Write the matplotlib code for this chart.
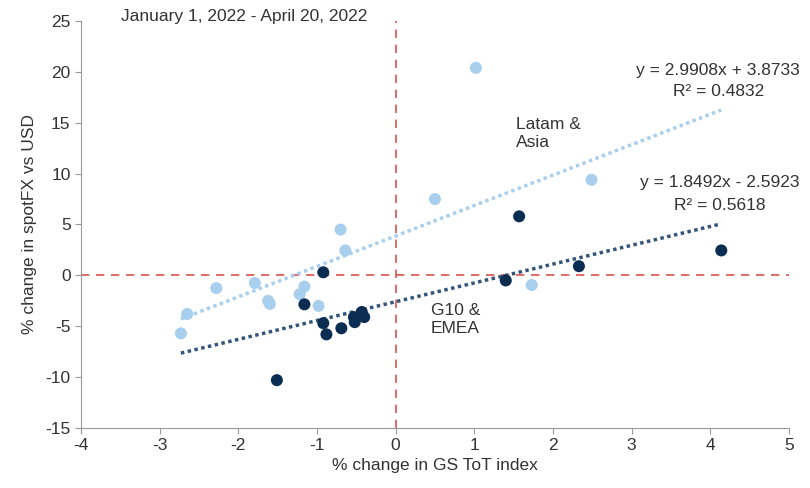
import numpy as np
import matplotlib
matplotlib.use("Agg")
import matplotlib.pyplot as plt

plt.rcParams['font.family'] = ['Liberation Sans', 'DejaVu Sans']
plt.rcParams['axes.unicode_minus'] = False

# Latam & Asia
latam_x = [1.02, 2.49, 0.50, -0.70, -0.64, 1.73, -1.79, -2.28, -2.65, -2.73,
           -1.62, -1.60, -1.16, -1.22, -0.98]
latam_y = [20.4, 9.4, 7.5, 4.5, 2.45, -0.95, -0.75, -1.25, -3.8, -5.7,
           -2.5, -2.8, -1.1, -1.85, -3.0]

# G10 & EMEA
g10_x = [-0.92, -1.16, -0.92, -0.88, -0.69, -0.52, -0.53, -0.43, -0.40, -1.51,
         1.57, 2.33, 1.40, 4.14]
g10_y = [0.3, -2.85, -4.7, -5.8, -5.2, -4.6, -4.1, -3.6, -4.1, -10.3,
         5.8, 0.9, -0.5, 2.45]

# trendline coefficients as printed on the chart
latam_fit = (2.9908, 3.8733, 0.4832)
g10_fit = (1.8492, -2.5923, 0.5618)

xticks = [-4, -3, -2, -1, 0, 1, 2, 3, 4, 5]
yticks = [-15, -10, -5, 0, 5, 10, 15, 20, 25]

light = '#a9cfee'
dark = '#0b2d52'
txt = '#333333'
fs = 12.5

fig = plt.figure(figsize=(8.1, 4.88), dpi=100)
ax = fig.add_axes([0.1, 0.123, 0.874, 0.834])

ax.axhline(0, color='#d9534f', ls=(0, (5, 4)), lw=1.2, zorder=1)
ax.axvline(0, color='#d9534f', ls=(0, (5, 4)), lw=1.2, zorder=1)

# trendlines over the full x range of the data
allx = latam_x + g10_x
xs = np.array([min(allx), max(allx)])
ax.plot(xs, latam_fit[0] * xs + latam_fit[1], color=light, ls=(0, (1, 1)), lw=2.5, zorder=2)
ax.plot(xs, g10_fit[0] * xs + g10_fit[1], color='#34557a', ls=(0, (1, 1)), lw=2.5, zorder=2)

ax.scatter(latam_x, latam_y, s=75, color=light, edgecolors='none', zorder=3)
ax.scatter(g10_x, g10_y, s=75, color=dark, edgecolors='none', zorder=4)

ax.set_xlim(-4, 5)
ax.set_ylim(-15, 25)
ax.set_xticks(xticks)
ax.set_yticks(yticks)
ax.tick_params(direction='out', length=4, color='#999999', labelsize=fs, labelcolor=txt)
for s in ['top', 'right']:
    ax.spines[s].set_visible(False)
for s in ['left', 'bottom']:
    ax.spines[s].set_color('#999999')

ax.set_xlabel('% change in GS ToT index', fontsize=fs, color=txt, labelpad=3)
ax.set_ylabel('% change in spotFX vs USD', fontsize=fs, color=txt, labelpad=6)

ax.text(-3.49, 25.4, 'January 1, 2022 - April 20, 2022', fontsize=fs, color=txt, va='center')

ax.text(5.14, 20.1, 'y = %.4fx + %.4f' % (latam_fit[0], latam_fit[1]),
        fontsize=fs, color=txt, ha='right', va='center')
ax.text(4.1, 18.1, 'R² = %.4f' % latam_fit[2], fontsize=fs, color=txt, ha='center', va='center')
ax.text(5.14, 9.1, 'y = %.4fx - %.4f' % (g10_fit[0], -g10_fit[1]),
        fontsize=fs, color=txt, ha='right', va='center')
ax.text(4.12, 6.9, 'R² = %.4f' % g10_fit[2], fontsize=fs, color=txt, ha='center', va='center')

ax.text(1.53, 13.9, 'Latam &\nAsia', fontsize=fs, color=txt, ha='left', va='center', linespacing=1.25)
ax.text(0.45, -4.3, 'G10 &\nEMEA', fontsize=fs, color=txt, ha='left', va='center', linespacing=1.25)

fig.savefig('out.png', dpi=100)
